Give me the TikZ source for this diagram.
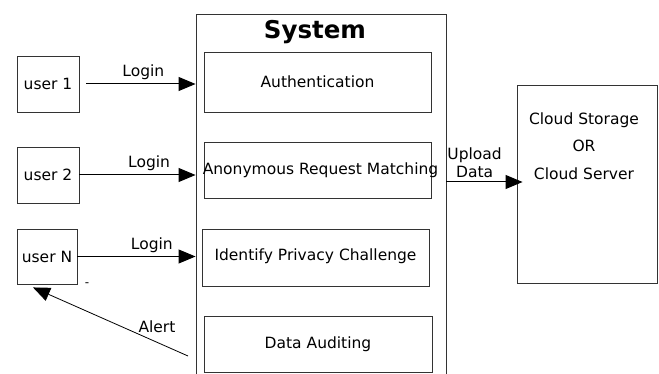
\documentclass[tikz,border=0pt]{standalone}
\usepackage{fontspec}
\setmainfont{DejaVu Sans}
\usetikzlibrary{arrows.meta}

\begin{document}
\begin{tikzpicture}[x=1pt, y=-1pt, font=\fontsize{15.5}{18.5}\selectfont,
  box/.style={rectangle, draw=black!80, line width=0.9pt, inner sep=0pt},
  user/.style={box, minimum width=62pt, minimum height=56pt},
  part/.style={box, minimum width=227pt, minimum height=57pt},
  flow/.style={-{Triangle[length=17pt,width=14pt]}, line width=1pt}]

    % page
    \fill[white] (0,0) rectangle (659,374);
    \useasboundingbox (0,0) rectangle (659,374);

    % users
    \node[user] (u1) at (48,84) {user 1};
    \node[user] (u2) at (48,175) {user 2};
    \node[user, minimum width=60pt, minimum height=55pt] (uN) at (47,256.5) {user N};
    \node[font=\fontsize{12}{12}\selectfont] (tick) at (87,285) {-};

    % system, open at the bottom
    \node[box, minimum width=250pt, minimum height=380pt] (sys) at (321,204) {};
    \node[font=\fontsize{24.5}{28}\selectfont\bfseries] (title) at (315,32) {System};
    \node[part, minimum height=60pt] (auth) at (317.5,82) {Authentication};
    \node[part, minimum height=56pt] (arm) at (317.5,170) {\makebox[0pt]{\hspace{6pt}Anonymous Request Matching}};
    \node[part] (ipc) at (315.5,257.5) {\raisebox{5pt}{Identify Privacy Challenge}};
    \node[part, minimum width=228pt, minimum height=56pt] (audit) at (318,344) {Data Auditing};

    % cloud
    \node[box, minimum width=140pt, minimum height=198pt] (cloud) at (587,184) {};
    \node[align=center, anchor=north] (cloudtext) at (584,109)
      {Cloud Storage\\[9pt]OR\\[9pt]Cloud Server};

    % lines
    \draw[flow, shorten <=7pt] (u1.east) -- (u1.east -| sys.west)
      node[pos=0.55, above] {Login};
    \draw[flow] (u2.east) -- (u2.east -| sys.west)
      node[pos=0.6, above] {Login};
    \draw[flow] (uN.east) -- (uN.east -| sys.west)
      node[pos=0.63, above] {Login};
    \coordinate (alertsrc) at (188,356);
    \draw[flow, line width=0.8pt] (alertsrc) -- ([xshift=-14pt,yshift=-3pt]uN.south)
      node[pos=0.2, above, yshift=6pt] {Alert};
    \draw[flow] (sys.east |- 0,182) -- ([xshift=6pt]cloud.west |- 0,182)
      node[pos=0.37, above, align=center, font=\fontsize{15.5}{18}\selectfont] {Upload\\Data};

\end{tikzpicture}
\end{document}
